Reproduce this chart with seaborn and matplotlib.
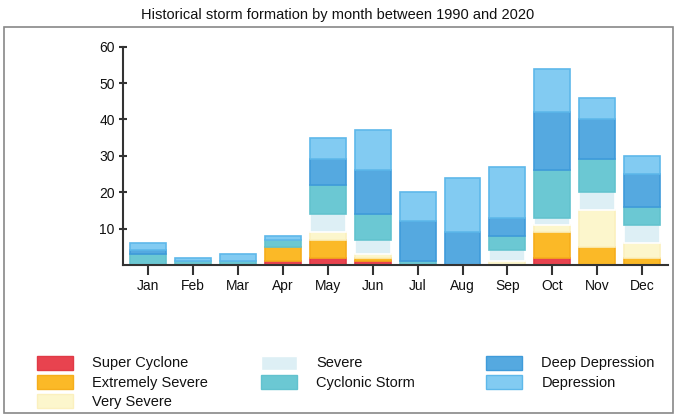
import matplotlib
matplotlib.use("Agg")
import matplotlib.pyplot as plt
from matplotlib.patches import Patch, Rectangle
import seaborn as sns
import numpy as np

months = ["Jan", "Feb", "Mar", "Apr", "May", "Jun", "Jul", "Aug", "Sep", "Oct", "Nov", "Dec"]
categories = ["Super Cyclone", "Extremely Severe", "Very Severe", "Severe",
              "Cyclonic Storm", "Deep Depression", "Depression"]

super_cyclone    = [0, 0, 0, 1, 2, 1, 0, 0, 0, 2, 0, 0]
extremely_severe = [0, 0, 0, 4, 5, 1, 0, 0, 0, 7, 5, 2]
very_severe      = [0, 0, 0, 0, 2, 1, 0, 0, 1, 2, 10, 4]
severe           = [0, 0, 0, 0, 5, 4, 0, 0, 3, 2, 5, 5]
cyclonic_storm   = [3, 1, 1, 2, 8, 7, 1, 0, 4, 13, 9, 5]
deep_depression  = [1, 0, 0, 0, 7, 12, 11, 9, 5, 16, 11, 9]
depression       = [2, 1, 2, 1, 6, 11, 8, 15, 14, 12, 6, 5]

series = [super_cyclone, extremely_severe, very_severe, severe,
          cyclonic_storm, deep_depression, depression]
y_ticks = [10, 20, 30, 40, 50, 60]

fills = ["#E8434F", "#FBB927", "#FCF6CC", "#DDEFF5", "#6BC8D3", "#55A9E0", "#82CBF2"]
edges = ["#E03A46", "#F5AE1C", "#FBF0BE", "#FFFFFF", "#62C2CE", "#3F9BDA", "#5EB8EA"]

sns.set_theme(style="white")
plt.rcParams["font.family"] = ["Liberation Sans", "DejaVu Sans"]

fig = plt.figure(figsize=(6.76, 4.15), dpi=100)
W, H = 676, 415
ax = fig.add_axes([123 / W, 1 - 265 / H, (668 - 123) / W, (265 - 46.7) / H])

bottom = np.zeros(len(months))
for vals, fc, ec in zip(series, fills, edges):
    sns.barplot(x=months, y=vals, bottom=bottom, color=fc, saturation=1,
                width=0.8, edgecolor=ec, linewidth=1.2, ax=ax)
    bottom = bottom + np.array(vals)

# hide outlines of empty segments
for p in ax.patches:
    if p.get_height() == 0:
        p.set_linewidth(0)

ax.set_ylim(0, 60)
ax.set_xlim(-0.55, 11.57)
ax.set_yticks(y_ticks)
ax.set_yticklabels([str(t) for t in y_ticks])
ax.set_xlabel("")
ax.set_ylabel("")
for s in ["top", "right"]:
    ax.spines[s].set_visible(False)
for s in ["left", "bottom"]:
    ax.spines[s].set_color("#333333")
    ax.spines[s].set_linewidth(1.5)
ax.tick_params(axis="both", width=1.5, color="#333333",
               labelsize=10, labelcolor="#111111")
ax.tick_params(axis="x", direction="out", length=7, pad=3, bottom=True)
ax.tick_params(axis="y", direction="inout", length=6, pad=3, left=True)

fig.text(0.5, 1 - 15 / H, "Historical storm formation by month between 1990 and 2020",
         ha="center", va="center", fontsize=10.5, color="#111111")

# outer frame around the plot area
fig.patches.append(Rectangle((4 / W, 2 / H), (673 - 4) / W, (413 - 27) / H,
                             transform=fig.transFigure, fill=False,
                             edgecolor="#888888", linewidth=1.2))

handles = [Patch(facecolor=fc, edgecolor=ec, linewidth=1, label=lab)
           for fc, ec, lab in zip(fills, edges, categories)]
groups = [(0, 3, 37), (3, 5, 261), (5, 7, 486)]
for start, stop, x0 in groups:
    leg = fig.legend(handles=handles[start:stop], loc="upper left",
                     bbox_to_anchor=(x0 / W, 1 - 355.5 / H), frameon=False,
                     fontsize=10.5, handlelength=2.5, handleheight=1.1,
                     handletextpad=1.3, labelspacing=0.28, borderpad=0,
                     borderaxespad=0)
    for t in leg.get_texts():
        t.set_color("#111111")

fig.savefig("out.png", dpi=100)
